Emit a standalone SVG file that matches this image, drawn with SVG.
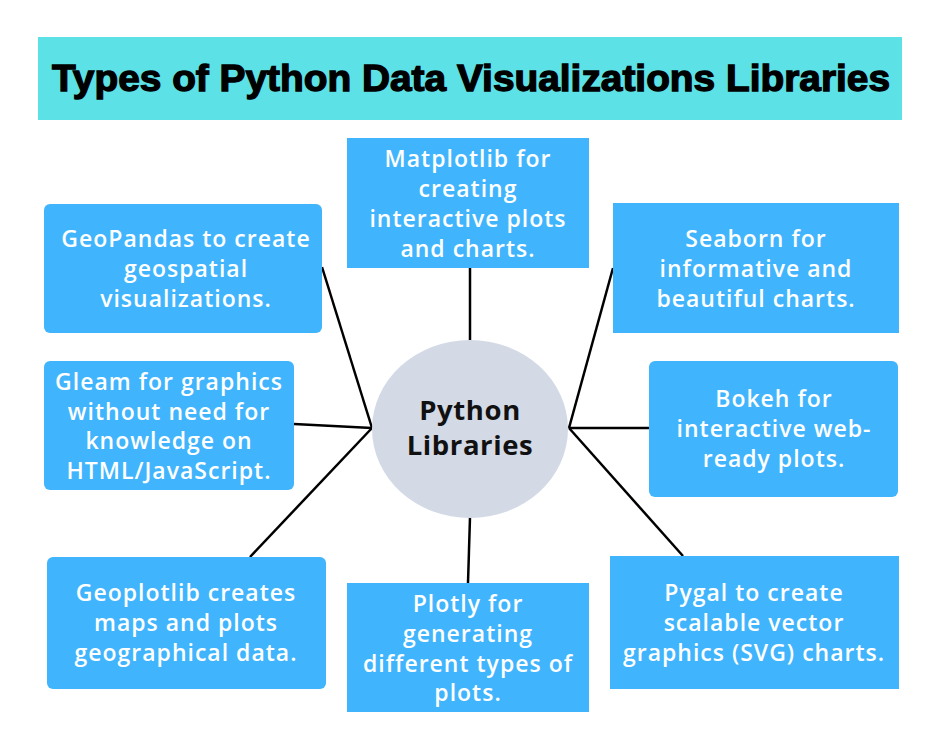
<svg xmlns="http://www.w3.org/2000/svg" width="940" height="748" viewBox="0 0 940 748">
<style>
.box{fill:#40B5FD}
.t{font-family:"Open Sans","Liberation Sans",sans-serif;font-weight:600;font-size:23px;letter-spacing:1px;fill:#FFFFFF;text-anchor:middle}
.c{font-family:"Open Sans","Liberation Sans",sans-serif;font-weight:700;font-size:27.5px;letter-spacing:0.6px;fill:#111111;text-anchor:middle}
.ln{stroke:#000000;stroke-width:2.5;fill:none;stroke-linecap:butt}
</style>
<rect width="940" height="748" fill="#FFFFFF"/>
<g id="title">
<rect x="38" y="37" width="864" height="83" fill="#5CE1E6"/>
<text x="471" y="91" font-family="'Liberation Sans',Arial,sans-serif" font-weight="700" font-size="37" fill="#000" stroke="#000" stroke-width="1.3" text-anchor="middle" textLength="838" lengthAdjust="spacingAndGlyphs">Types of Python Data Visualizations Libraries</text>
</g>
<g id="connectors">
<line class="ln" x1="470" y1="268" x2="470" y2="341"/>
<line class="ln" x1="322" y1="267" x2="372" y2="428"/>
<line class="ln" x1="294" y1="424" x2="372" y2="428"/>
<line class="ln" x1="250" y1="557" x2="372" y2="428"/>
<line class="ln" x1="470" y1="517" x2="468" y2="583"/>
<line class="ln" x1="613" y1="268" x2="569" y2="428"/>
<line class="ln" x1="569" y1="428" x2="649" y2="428"/>
<line class="ln" x1="569" y1="428" x2="683" y2="556"/>
</g>
<g id="center">
<ellipse cx="470" cy="429" rx="98" ry="89" fill="#D3DAE6"/>
<text class="c" x="470" y="420">Python</text>
<text class="c" x="470" y="455">Libraries</text>
</g>
<g id="matplotlib">
<rect class="box" x="347" y="138" width="242" height="130"/>
<text class="t" x="468" y="167">Matplotlib for</text>
<text class="t" x="468" y="197">creating</text>
<text class="t" x="468" y="227">interactive plots</text>
<text class="t" x="468" y="257">and charts.</text>
</g>
<g id="geopandas">
<rect class="box" x="44" y="204" width="278" height="129" rx="6"/>
<text class="t" x="186" y="247">GeoPandas to create</text>
<text class="t" x="186" y="277">geospatial</text>
<text class="t" x="186" y="307">visualizations.</text>
</g>
<g id="seaborn">
<rect class="box" x="613" y="203" width="286" height="130"/>
<text class="t" x="756" y="247">Seaborn for</text>
<text class="t" x="756" y="277">informative and</text>
<text class="t" x="756" y="307">beautiful charts.</text>
</g>
<g id="gleam">
<rect class="box" x="44" y="361" width="250" height="129" rx="6"/>
<text class="t" x="169" y="390">Gleam for graphics</text>
<text class="t" x="169" y="420">without need for</text>
<text class="t" x="169" y="449">knowledge on</text>
<text class="t" x="169" y="479">HTML/JavaScript.</text>
</g>
<g id="bokeh">
<rect class="box" x="649" y="361" width="249" height="136" rx="6"/>
<text class="t" x="774" y="407">Bokeh for</text>
<text class="t" x="774" y="437">interactive web-</text>
<text class="t" x="774" y="467">ready plots.</text>
</g>
<g id="geoplotlib">
<rect class="box" x="47" y="557" width="279" height="132" rx="6"/>
<text class="t" x="186" y="601">Geoplotlib creates</text>
<text class="t" x="186" y="631">maps and plots</text>
<text class="t" x="186" y="661">geographical data.</text>
</g>
<g id="plotly">
<rect class="box" x="347" y="583" width="242" height="129"/>
<text class="t" x="468" y="612">Plotly for</text>
<text class="t" x="468" y="642">generating</text>
<text class="t" x="468" y="672">different types of</text>
<text class="t" x="468" y="701">plots.</text>
</g>
<g id="pygal">
<rect class="box" x="610" y="556" width="289" height="133"/>
<text class="t" x="754" y="601">Pygal to create</text>
<text class="t" x="754" y="631">scalable vector</text>
<text class="t" x="754" y="661">graphics (SVG) charts.</text>
</g>
</svg>
